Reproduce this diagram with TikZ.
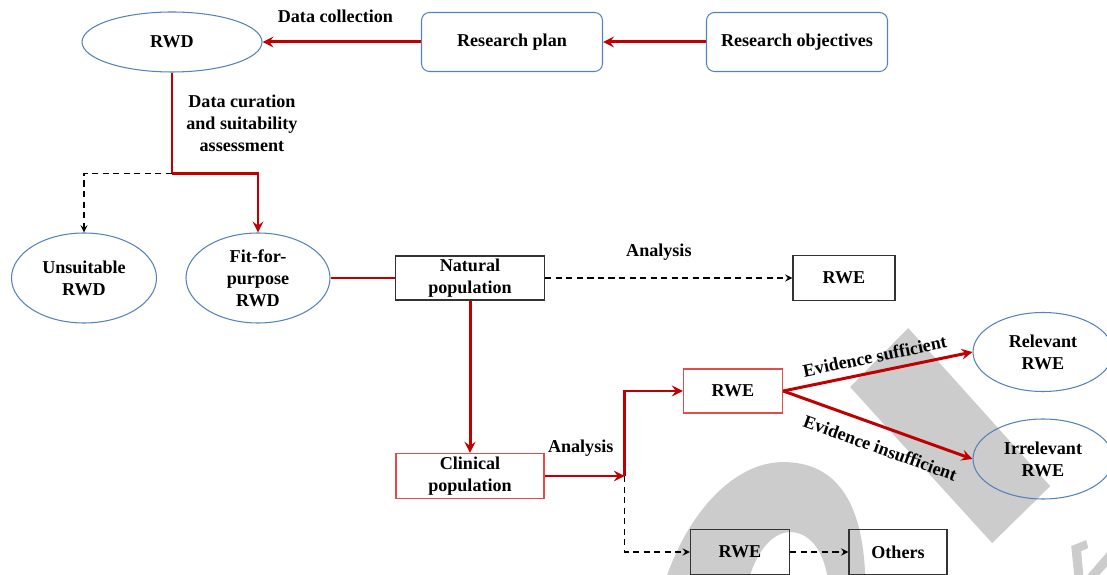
\documentclass[tikz,border=0pt]{standalone}
\usepackage{fontspec}
\setmainfont{Liberation Serif}
\usetikzlibrary{shapes.geometric}
\definecolor{linered}{RGB}{192,0,0}
\definecolor{boxred}{RGB}{228,76,76}
\definecolor{ovalblue}{RGB}{84,130,186}
\definecolor{markgray}{RGB}{204,204,204}
\tikzstyle{oval} = [ellipse, align=center, draw=ovalblue, line width=0.6pt, inner sep=0pt]
\tikzstyle{roundbox} = [rectangle, rounded corners=0.16cm, align=center, draw=ovalblue, line width=0.6pt, minimum width=3.62cm, minimum height=1.18cm]
\tikzstyle{box} = [rectangle, align=center, draw=black!80, line width=0.8pt, inner ysep=0.5pt, minimum height=0.9cm]
\tikzstyle{redbox} = [rectangle, align=center, draw=boxred, line width=0.8pt, inner ysep=0.5pt, minimum height=0.9cm]
\tikzstyle{redline} = [draw=linered, line width=1.7pt]
\tikzstyle{dashline} = [dash pattern=on 3.5pt off 2.5pt, line width=0.8pt]

\begin{document}
\begin{tikzpicture}[>=stealth, every node/.style={font=\bfseries\fontsize{10.3}{12.5}\selectfont}]
	\useasboundingbox (0,0) rectangle (22.14,-11.5);

	% watermark in the background
	\begin{scope}[x=0.02cm, y=-0.02cm]
		\fill[markgray] (908,328) -- (850,387) -- (992,543) -- (1050,486) -- cycle;
		\fill[markgray] (667,575) .. controls (690,510) and (735,462) .. (783,462) .. controls (835,462) and (862,500) .. (865,575) -- (827,575) .. controls (822,548) and (808,532) .. (790,532) .. controls (772,532) and (757,552) .. (750,575) -- cycle;
		\fill[markgray] (1071,546) -- (1086,540) -- (1088,548) -- (1081,551) -- (1083,575) -- (1074,575) -- cycle;
		\fill[markgray] (1087,575) -- (1107,552) -- (1107,566) -- (1099,575) -- cycle;
	\end{scope}

	\node[oval, minimum width=3.6cm, minimum height=1.2cm] at (3.44,-0.84) (rwd) {RWD};
	\node[roundbox] at ([xshift=6.8cm]rwd) (plan) {Research plan};
	\node[roundbox] at ([xshift=5.7cm]plan) (obj) {Research objectives};
	\node[oval, minimum width=2.9cm, minimum height=1.8cm] at ([xshift=-1.76cm, yshift=-4.72cm]rwd) (unsuit) {Unsuitable\\RWD};
	\node[oval, minimum width=2.88cm, minimum height=1.8cm] at ([xshift=3.48cm]unsuit) (fit) {Fit-for-\\purpose\\RWD};
	\node[box, minimum width=2.98cm, minimum height=0.88cm] at ([xshift=4.24cm]fit) (nat) {Natural\\population};
	\node[box, minimum width=2.04cm] at ([xshift=7.48cm]nat) (rwea) {RWE};
	\node[redbox, minimum width=2.96cm] at ([yshift=-3.96cm]nat) (clin) {Clinical\\population};
	\node[redbox, minimum width=1.98cm, minimum height=0.88cm] at ([xshift=5.26cm, yshift=1.7cm]clin) (rweb) {RWE};
	\node[oval, minimum width=2.8cm, minimum height=1.58cm] at ([xshift=6.2cm, yshift=0.78cm]rweb) (rel) {Relevant\\RWE};
	\node[oval, minimum width=2.8cm, minimum height=1.6cm] at ([yshift=-2.14cm]rel) (irr) {Irrelevant\\RWE};
	\node[box, minimum width=1.98cm] at ([xshift=0.14cm, yshift=-3.22cm]rweb) (rwec) {RWE};
	\node[box, minimum width=1.96cm] at ([xshift=3.16cm]rwec) (others) {Others};

	\coordinate (split) at ([yshift=-2.02cm]rwd.south);
	\coordinate (fork) at ([xshift=1.6cm]clin.east);

	\draw[redline, ->] (obj.west) -- (plan.east);
	\draw[redline, ->] (plan.west) -- node[pos=0.54, yshift=0.52cm] {Data collection} (rwd.east);
	\draw[redline] (rwd.south) -- node[right=0.14cm, align=center] {Data curation\\and suitability\\assessment} (split);
	\draw[redline, ->] (split) -| (fit.north);
	\draw[dashline, ->] (split) -| (unsuit.north);
	\draw[redline] (fit.east) -- (nat.west);
	\draw[dashline, ->] (nat.east) -- node[pos=0.46, yshift=0.52cm] {Analysis} (rwea.west);
	\draw[redline, ->] (nat.south) -- (clin.north);
	\draw[redline, ->] (clin.east) -- node[pos=0.45, yshift=0.56cm] {Analysis} (fork);
	\draw[redline, ->] (fork) |- (rweb.west);
	\draw[dashline, ->] (fork) |- (rwec.west);
	\draw[dashline, ->] (rwec.east) -- (others.west);
	\draw[redline, ->] (rweb.east) -- node[sloped, above=1pt, pos=0.5] {Evidence sufficient} (rel.west);
	\draw[redline, ->] (rweb.east) -- node[sloped, below=4pt, pos=0.55] {Evidence insufficient} (irr.west);
\end{tikzpicture}
\end{document}
